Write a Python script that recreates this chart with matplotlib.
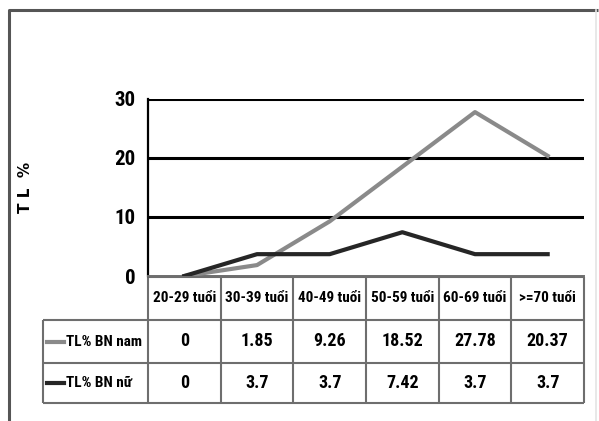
import matplotlib
matplotlib.use("Agg")
import matplotlib.pyplot as plt
from matplotlib import font_manager

# age groups and rates (%) per sex
categories = ["20-29 tuổi", "30-39 tuổi", "40-49 tuổi", "50-59 tuổi", "60-69 tuổi", ">=70 tuổi"]
nam = [0, 1.85, 9.26, 18.52, 27.78, 20.37]
nu = [0, 3.7, 3.7, 7.42, 3.7, 3.7]
nam_labels = ["0", "1.85", "9.26", "18.52", "27.78", "20.37"]
nu_labels = ["0", "3.7", "3.7", "7.42", "3.7", "3.7"]
series_names = ["TL% BN nam", "TL% BN nữ"]
yticks = [0, 10, 20, 30]

GRAY = "#8a8a8a"
DARK = "#262626"
BORDER = "#6e6e6e"

# narrow face with a bold cut for all labels, whichever is installed
wanted = ["Liberation Sans Narrow", "Arial Narrow", "Archivo Narrow",
          "Roboto Condensed", "PT Sans Narrow", "Open Sans Condensed"]
bold_names = {f.name for f in font_manager.fontManager.ttflist
              if isinstance(f.weight, int) and f.weight >= 600 or f.weight == "bold"}
narrow = [n for n in wanted if n in bold_names]
FONT = narrow[:1] + ["DejaVu Sans"]

W, H = 599, 421
fig = plt.figure(figsize=(W / 100, H / 100), dpi=100)

# pixel-space overlay for frame and table
px = fig.add_axes([0, 0, 1, 1])
px.set_xlim(0, W)
px.set_ylim(H, 0)
px.axis("off")

# outer frame
px.plot([9, 9, 598], [421, 10, 10], color="#555555", lw=2.2, solid_capstyle="butt")
px.plot([596, 596], [10, 421], color="#e4e4e4", lw=1.2)

# plot area
x0, x1, ytop, ybot = 148, 584, 99, 276
ax = fig.add_axes([x0 / W, 1 - ybot / H, (x1 - x0) / W, (ybot - ytop) / H])
ax.set_xlim(-0.5, len(categories) - 0.5)
ax.set_ylim(0, 30)
for t in yticks[1:]:
    ax.axhline(t, color="black", lw=2.2, zorder=1)
ax.plot(range(len(categories)), nam, color=GRAY, lw=3, zorder=3)
ax.plot(range(len(categories)), nu, color=DARK, lw=3, zorder=3)
for s in ("top", "right"):
    ax.spines[s].set_visible(False)
ax.spines["left"].set_color("black")
ax.spines["left"].set_linewidth(1.6)
ax.spines["bottom"].set_color(BORDER)
ax.spines["bottom"].set_linewidth(1.4)
ax.set_xticks([])
ax.set_yticks(yticks)
ax.set_yticklabels([str(t) for t in yticks], family=FONT, fontsize=15, fontweight="bold")
ax.tick_params(axis="y", length=0, pad=9)
ax.patch.set_alpha(0)

fig.text(25 / W, 1 - 187 / H, "T L  %", rotation=90, ha="center", va="center",
         family=["DejaVu Sans"], fontsize=11, fontweight="bold")

# data table below the x axis
col_w = (x1 - x0) / len(categories)
leg_left = 43
rows = [(277, 320), (320, 363), (363, 403)]
tl = dict(color=BORDER, lw=1.5, solid_capstyle="butt")

# horizontal rules
px.plot([x0, x1], [rows[0][0], rows[0][0]], **tl)
for y in (rows[1][0], rows[2][0], rows[2][1]):
    px.plot([leg_left, x1], [y, y], **tl)
# vertical rules
px.plot([leg_left, leg_left], [rows[1][0], rows[2][1]], **tl)
for i in range(len(categories) + 1):
    px.plot([x0 + i * col_w] * 2, [rows[0][0], rows[2][1]], **tl)

head = dict(family=FONT, fontsize=11, fontweight="bold", ha="center", va="center")
cell = dict(family=FONT, fontsize=13, fontweight="bold", ha="center", va="center")
for i, cat in enumerate(categories):
    cx = x0 + (i + 0.5) * col_w
    px.text(cx, sum(rows[0]) / 2, cat, **head)
    px.text(cx, sum(rows[1]) / 2, nam_labels[i], **cell)
    px.text(cx, sum(rows[2]) / 2, nu_labels[i], **cell)

for (r0, r1), name, col in zip(rows[1:], series_names, [GRAY, DARK]):
    yc = (r0 + r1) / 2
    px.plot([47, 64], [yc, yc], color=col, lw=3)
    px.text(66, yc, name, family=FONT, fontsize=11, fontweight="bold",
            ha="left", va="center")

fig.savefig("out.png", dpi=100)
